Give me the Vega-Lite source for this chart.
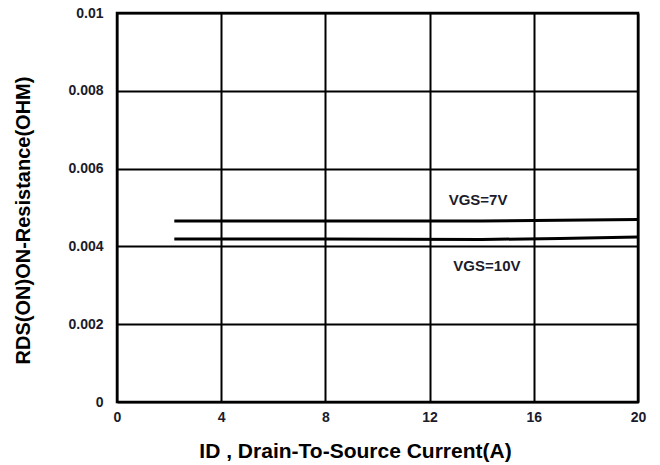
{
  "$schema": "https://vega.github.io/schema/vega-lite/v6.json",
  "width": 521,
  "height": 389,
  "autosize": {"type": "none"},
  "padding": {"left": 117, "top": 13, "right": 22, "bottom": 63},
  "background": "white",
  "config": {
    "view": {"stroke": "black", "strokeWidth": 2.5},
    "font": "Liberation Sans"
  },
  "datasets": {
    "curves": [
      {"id": 2.2, "r": 0.00465, "vgs": "VGS=7V"},
      {"id": 8, "r": 0.00465, "vgs": "VGS=7V"},
      {"id": 14, "r": 0.00465, "vgs": "VGS=7V"},
      {"id": 17, "r": 0.00467, "vgs": "VGS=7V"},
      {"id": 20, "r": 0.00469, "vgs": "VGS=7V"},
      {"id": 2.2, "r": 0.00419, "vgs": "VGS=10V"},
      {"id": 8, "r": 0.00419, "vgs": "VGS=10V"},
      {"id": 14, "r": 0.00418, "vgs": "VGS=10V"},
      {"id": 17, "r": 0.0042, "vgs": "VGS=10V"},
      {"id": 20, "r": 0.00424, "vgs": "VGS=10V"}
    ],
    "labels": [
      {"id": 13.86, "r": 0.00519, "label": "VGS=7V"},
      {"id": 14.2, "r": 0.0035, "label": "VGS=10V"}
    ]
  },
  "layer": [
    {
      "data": {"name": "curves"},
      "mark": {"type": "line", "color": "black", "strokeWidth": 3},
      "encoding": {
        "x": {
          "field": "id", "type": "quantitative",
          "scale": {"domain": [0, 20], "nice": false},
          "axis": {
            "values": [0, 4, 8, 12, 16, 20],
            "grid": true, "gridColor": "black", "gridWidth": 2, "gridOpacity": 1,
            "domain": false, "ticks": false, "labelFlush": false,
            "labelFont": "Liberation Sans", "labelFontWeight": "bold", "labelFontSize": 14,
            "labelColor": "#1b1b2b", "labelPadding": 8,
            "title": "ID , Drain-To-Source Current(A)",
            "titleFont": "Liberation Sans", "titleFontWeight": "bold", "titleFontSize": 21,
            "titleColor": "black", "titlePadding": 16, "titleAnchor": "middle", "titleX": 238
          }
        },
        "y": {
          "field": "r", "type": "quantitative",
          "scale": {"domain": [0, 0.01], "nice": false},
          "axis": {
            "values": [0, 0.002, 0.004, 0.006, 0.008, 0.01],
            "format": "~g",
            "grid": true, "gridColor": "black", "gridWidth": 2, "gridOpacity": 1,
            "domain": false, "ticks": false, "labelFlush": false,
            "labelFont": "Liberation Sans", "labelFontWeight": "bold", "labelFontSize": 14,
            "labelColor": "#1b1b2b", "labelPadding": 14,
            "title": "RDS(ON)ON-Resistance(OHM)",
            "titleFont": "Liberation Sans", "titleFontWeight": "bold", "titleFontSize": 20,
            "titleColor": "black", "titlePadding": 34, "titleY": 207
          }
        },
        "detail": {"field": "vgs", "type": "nominal"}
      }
    },
    {
      "data": {"name": "labels"},
      "mark": {"type": "text", "font": "Liberation Sans", "fontWeight": "bold", "fontSize": 15, "color": "#1b1b2b", "align": "center", "baseline": "middle"},
      "encoding": {
        "x": {"field": "id", "type": "quantitative"},
        "y": {"field": "r", "type": "quantitative"},
        "text": {"field": "label"}
      }
    }
  ]
}
